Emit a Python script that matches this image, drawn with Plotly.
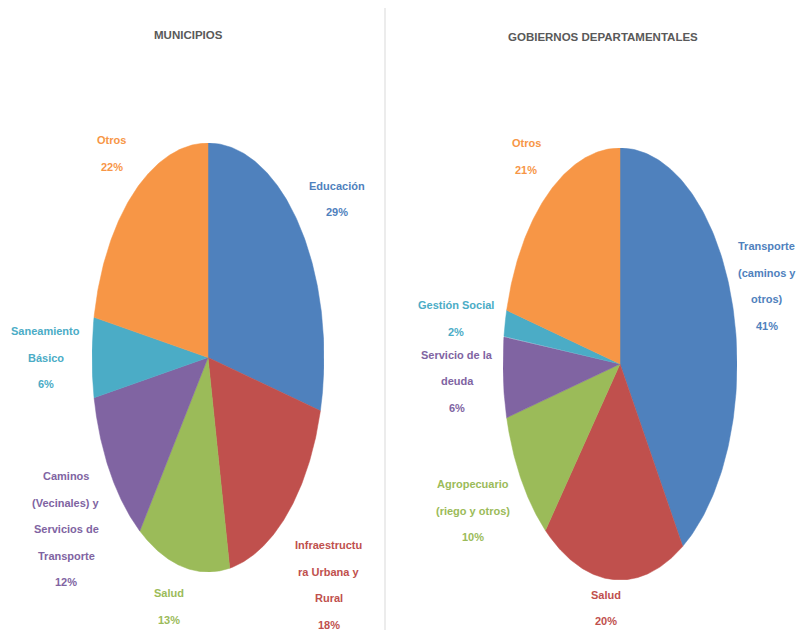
import numpy as np
import plotly.graph_objects as go

# ---------------- data ----------------
mun_labels = ["Educación", "Infraestructura Urbana y Rural", "Salud",
              "Caminos (Vecinales) y Servicios de Transporte", "Saneamiento Básico", "Otros"]
mun_values = [29, 18, 13, 12, 6, 22]
mun_text = ["Educación", "Infraestructu|ra Urbana y|Rural", "Salud",
            "Caminos|(Vecinales) y|Servicios de|Transporte", "Saneamiento|Básico", "Otros"]

dep_labels = ["Transporte (caminos y otros)", "Salud", "Agropecuario (riego y otros)",
              "Servicio de la deuda", "Gestión Social", "Otros"]
dep_values = [41, 20, 10, 6, 2, 21]
dep_text = ["Transporte|(caminos y|otros)", "Salud", "Agropecuario|(riego y otros)",
            "Servicio de la|deuda", "Gestión Social", "Otros"]

titles = ["MUNICIPIOS", "GOBIERNOS DEPARTAMENTALES"]

# ---------------- style ----------------
COLORS = ["#4F81BD", "#C0504D", "#9BBB59", "#8064A2", "#4BACC6", "#F79646"]
FONT = "Liberation Sans, Arial, sans-serif"
OFF = 8                              # page body margin
W, H = 805 - 2 * OFF, 638 - 2 * OFF  # figure size so the page never scrolls
# label block centres in pie-radius units (x right, y up)
mun_label_pos = [(1.11, 0.74), (1.04, -1.06), (-0.34, -1.16), (-1.22, -0.80), (-1.40, 0.0), (-0.83, 0.95)]
dep_label_pos = [(1.255, 0.36), (-0.12, -1.13), (-1.26, -0.68), (-1.39, -0.08), (-1.40, 0.21), (-0.80, 0.96)]
# pie boxes in window pixels: (left, right, top, bottom)
boxes = [(92, 324, 143, 572), (503, 737, 148, 580)]
LINE_GAP = 26.5


def px2paper(px, py):
    return (px - OFF) / W, 1 - (py - OFF) / H


fig = go.Figure()
annotations = []


def add_pie(idx, labels, values, texts, label_pos):
    xa = "x" if idx == 0 else "x2"
    ya = "y" if idx == 0 else "y2"
    vals = np.array(values, dtype=float)
    frac = vals / vals.sum()
    ends = np.cumsum(frac) * 2 * np.pi
    starts = ends - frac * 2 * np.pi
    for i, (lab, v) in enumerate(zip(labels, values)):
        th = np.linspace(starts[i], ends[i], 120)
        xs = np.concatenate([[0], np.sin(th), [0]])
        ys = np.concatenate([[0], np.cos(th), [0]])
        fig.add_trace(go.Scatter(
            x=xs, y=ys, mode="lines", fill="toself", fillcolor=COLORS[i],
            line=dict(color=COLORS[i], width=0.5), xaxis=xa, yaxis=ya,
            name=lab, hoverinfo="text", hoveron="fills",
            text=f"{lab}: {v}%", showlegend=False))
    l, r, t, b = boxes[idx]
    for i, (txt, v) in enumerate(zip(texts, values)):
        lines = txt.split("|") + [f"{v}%"]
        ux, uy = label_pos[i]
        cx = (l + r) / 2 + ux * (r - l) / 2
        cy = (t + b) / 2 - uy * (b - t) / 2
        n = len(lines)
        for j, ln in enumerate(lines):
            yy = cy + (j - (n - 1) / 2) * LINE_GAP
            x, y = px2paper(cx, yy)
            annotations.append(dict(
                x=x, y=y, xref="paper", yref="paper",
                text=f"<b>{ln}</b>", showarrow=False, xanchor="center", yanchor="middle",
                font=dict(family=FONT, size=11, color=COLORS[i])))


add_pie(0, mun_labels, mun_values, mun_text, mun_label_pos)
add_pie(1, dep_labels, dep_values, dep_text, dep_label_pos)

# titles
for tx, xpx, ypx in zip(titles, [188, 603], [35, 37]):
    x, y = px2paper(xpx, ypx)
    annotations.append(dict(x=x, y=y, xref="paper", yref="paper",
                            text=f"<b>{tx}</b>", showarrow=False, xanchor="center", yanchor="middle",
                            font=dict(family=FONT, size=11.5, color="#595959")))

axis_common = dict(range=[-1, 1], visible=False, showgrid=False, zeroline=False, fixedrange=True)
(l0, t0), (r0, b0) = px2paper(boxes[0][0], boxes[0][2]), px2paper(boxes[0][1], boxes[0][3])
(l1, t1), (r1, b1) = px2paper(boxes[1][0], boxes[1][2]), px2paper(boxes[1][1], boxes[1][3])
dx, dy_top = px2paper(385, 10)
fig.update_layout(
    width=W, height=H, margin=dict(l=0, r=0, t=0, b=0),
    paper_bgcolor="white", plot_bgcolor="rgba(0,0,0,0)",
    xaxis=dict(domain=[l0, r0], **axis_common),
    yaxis=dict(domain=[b0, t0], **axis_common),
    xaxis2=dict(domain=[l1, r1], anchor="y2", **axis_common),
    yaxis2=dict(domain=[b1, t1], anchor="x2", **axis_common),
    annotations=annotations,
    shapes=[dict(type="line", xref="paper", yref="paper", x0=dx, x1=dx,
                 y0=0, y1=1, line=dict(color="#D9D9D9", width=1))],
)

fig.write_html("out.html")
